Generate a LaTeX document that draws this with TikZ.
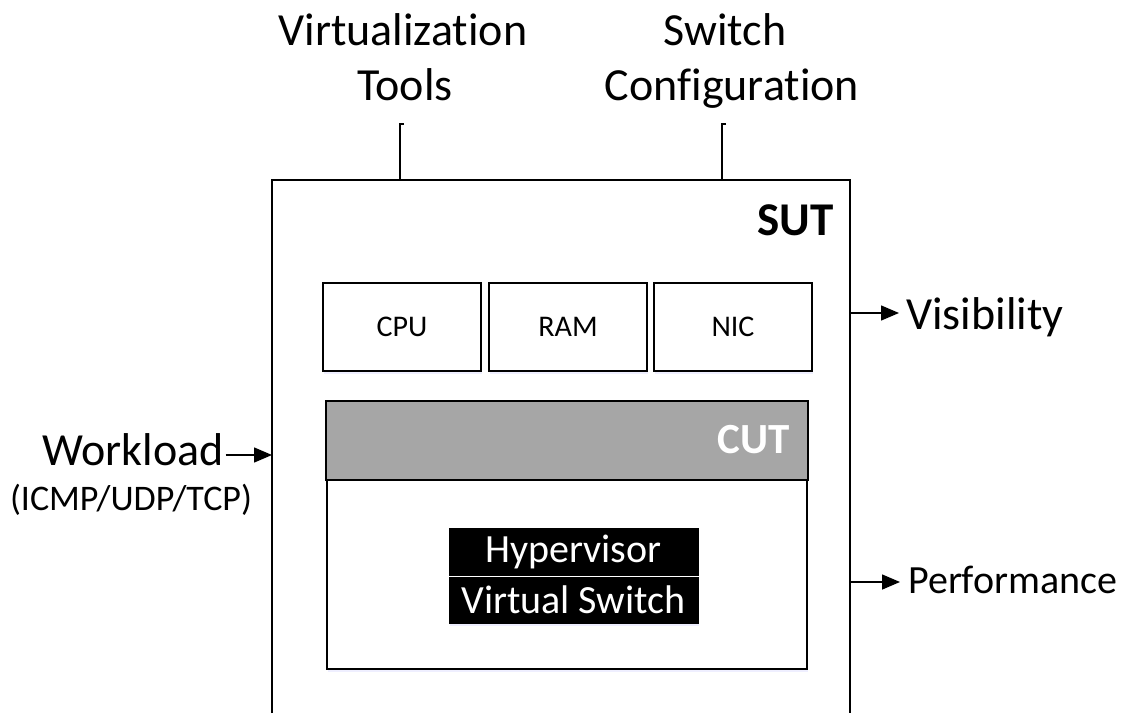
\documentclass[tikz,border=0pt]{standalone}
\usepackage{fontspec}
\setmainfont{Carlito}[Ligatures={NoCommon}]
\usetikzlibrary{arrows.meta,shadows}

\tikzset{
  lbl/.style={inner sep=0pt, font=\fontsize{46}{55}\selectfont},
  softshadow/.style={drop shadow={shadow xshift=1pt, shadow yshift=-3pt, opacity=0.25, fill=blue!25}},
  comp/.style={draw, fill=white, line width=1.5pt, minimum width=158pt, minimum height=88pt,
    inner sep=0pt, font=\fontsize{30}{34}\selectfont, softshadow},
  layer/.style={draw=black, fill=black, text=white, line width=1pt, inner sep=0pt,
    minimum width=249pt, font=\fontsize{40}{44}\selectfont},
  headtip/.tip={Triangle[length=18pt, width=15pt]},
  flow/.style={line width=1.5pt, arrows={-headtip}},
  stub/.style={line width=1.6pt},
}

\begin{document}
\begin{tikzpicture}[x=1pt, y=-1pt]
\useasboundingbox (0,0) rectangle (1125,713);

% system under test (open at the bottom)
\coordinate (sutbl) at (272,713);
\coordinate (sutbr) at (850,713);
\coordinate (suttl) at (272,180);
\coordinate (suttr) at (850,180);
\draw[line width=2pt] (sutbl) -- (suttl) -- (suttr) -- (sutbr);
\node[anchor=base east, inner sep=0pt, font=\fontsize{47}{50}\selectfont\bfseries] (sut) at (834,235) {SUT};

% hardware resources
\node[comp] (cpu) at (402,327) {CPU};
\node[comp] (ram) at (568,327) {RAM};
\node[comp] (nic) at (733,327) {NIC};

% component under test
\node[draw, fill=white, line width=1.8pt, minimum width=480pt, minimum height=267pt, inner sep=0pt, softshadow]
  (cut) at (567,535.5) {};
\path[fill={rgb,255:red,166;green,166;blue,166}, draw=black, line width=1.8pt]
  (cut.north west) rectangle ([yshift=-79pt]cut.north east);
\node[anchor=base east, inner sep=0pt, text=white, font=\fontsize{43}{46}\selectfont\bfseries] (cutlbl) at (790,453) {CUT};

% software stack
\node[layer, minimum height=48pt, softshadow] (hyp) at (573.5,552) {Hypervisor};
\node[layer, minimum height=47pt, softshadow] (vsw) at (573.5,599.5) {Virtual Switch};
\draw[white, line width=1.5pt] (hyp.south west) -- (hyp.south east);

% inputs from above
\node[lbl, anchor=base] (virt) at (403,45) {Virtualization};
\node[lbl, anchor=base] (tools) at (405,100) {Tools};
\node[lbl, anchor=base] (switch) at (725,45) {Switch};
\node[lbl, anchor=base] (config) at (732,100) {Configuration};
\coordinate (vtop) at (400,124);
\coordinate (ctop) at (722,124);
\draw[stub] ([xshift=4pt]vtop) -- (vtop) -- (vtop |- suttl);
\draw[stub] ([xshift=4pt]ctop) -- (ctop) -- (ctop |- suttl);

% workload input
\node[lbl, anchor=base west] (work) at (42,465) {Workload};
\node[anchor=base, inner sep=0pt, font=\fontsize{36}{40}\selectfont] (proto) at (131,510) {(ICMP/UDP/TCP)};
\coordinate (workin) at (272,455);
\draw[flow] ([xshift=2pt]work.east |- workin) -- (workin);

% outputs
\coordinate (visout) at (850,313);
\coordinate (perfout) at (850,582);
\node[lbl, anchor=base west] (vis) at (906,329) {Visibility};
\node[anchor=base west, inner sep=0pt, font=\fontsize{40}{44}\selectfont] (perf) at (908,593) {Performance};
\draw[flow] (visout) -- ([xshift=-7pt]visout -| vis.west);
\draw[flow] (perfout) -- ([xshift=-8pt]perfout -| perf.west);
\end{tikzpicture}
\end{document}
